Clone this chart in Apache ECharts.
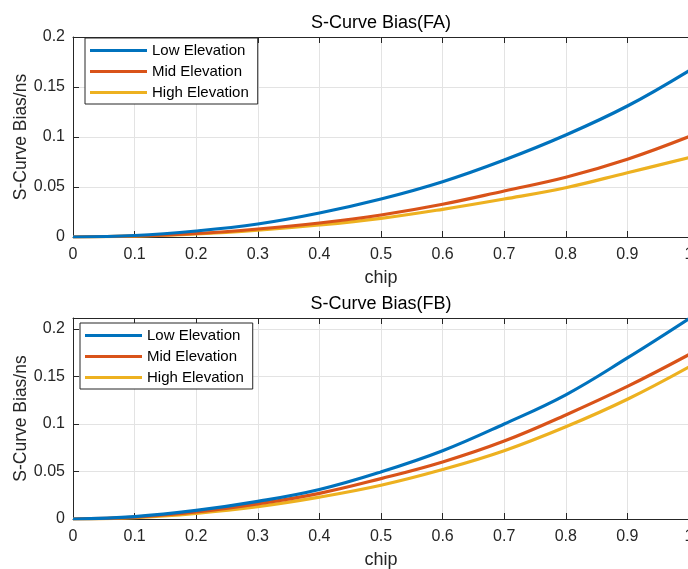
<!DOCTYPE html>
<html>
<head>
<meta charset="utf-8">
<script src="https://cdn.jsdelivr.net/npm/echarts@6/dist/echarts.min.js"></script>
<style>html,body{margin:0;padding:0;background:#fff;}#c{width:688px;height:569px;}</style>
</head>
<body>
<div id="c"></div>
<script>
const chip = [0, 0.1, 0.2, 0.3, 0.4, 0.5, 0.6, 0.7, 0.8, 0.9, 1.0];
const seriesNames = ['Low Elevation', 'Mid Elevation', 'High Elevation'];
const faLow  = [0, 0.0015, 0.006, 0.013, 0.024, 0.038, 0.0553, 0.077, 0.102, 0.131, 0.1663];
const faMid  = [0, 0.001, 0.0035, 0.008, 0.014, 0.022, 0.0327, 0.046, 0.0597, 0.0777, 0.1003];
const faHigh = [0, 0.0008, 0.003, 0.0068, 0.012, 0.0187, 0.0277, 0.038, 0.0493, 0.0643, 0.0793];
const fbLow  = [0, 0.0025, 0.009, 0.0185, 0.031, 0.0495, 0.0718, 0.1, 0.1307, 0.1695, 0.2108];
const fbMid  = [0, 0.002, 0.0075, 0.016, 0.027, 0.0425, 0.060, 0.082, 0.1095, 0.1395, 0.173];
const fbHigh = [0, 0.0015, 0.006, 0.013, 0.023, 0.0355, 0.052, 0.0718, 0.097, 0.126, 0.16];
const titles = ['S-Curve Bias(FA)', 'S-Curve Bias(FB)'];
const yMaxes = [0.2, 0.2115];
const colors = ['#0072BD', '#D95319', '#EDB120'];

const font = 'Liberation Sans, Arial, Helvetica, sans-serif';
const txt = '#262626';
const pair = (ys) => chip.map((x, i) => [x, ys[i]]);

function xAxes(g) {
  return [
    { type: 'value', gridIndex: g, min: 0, max: 1, interval: 0.1, position: 'bottom',
      name: 'chip', nameLocation: 'middle', nameGap: 32, nameMoveOverlap: false,
      nameTextStyle: { color: txt, fontSize: 18, fontFamily: font },
      axisLine: { show: true, onZero: false, lineStyle: { color: txt, width: 1 } },
      axisTick: { show: true, inside: true, length: 6, lineStyle: { color: txt } },
      axisLabel: { color: txt, fontSize: 16, fontFamily: font, margin: 10 },
      splitLine: { show: true, lineStyle: { color: '#e3e3e3', width: 1 } } },
    { type: 'value', gridIndex: g, min: 0, max: 1, interval: 0.1, position: 'top',
      axisLine: { show: true, onZero: false, lineStyle: { color: txt, width: 1 } },
      axisTick: { show: true, inside: true, length: 6, lineStyle: { color: txt } },
      axisLabel: { show: false }, splitLine: { show: false } }
  ];
}
function yAxis(g) {
  return { type: 'value', gridIndex: g, min: 0, max: yMaxes[g], interval: 0.05,
    name: 'S-Curve Bias/ns', nameLocation: 'middle', nameGap: 43, nameMoveOverlap: false,
    nameTextStyle: { color: txt, fontSize: 17.5, fontFamily: font },
    axisLine: { show: true, lineStyle: { color: txt, width: 1 } },
    axisTick: { show: true, inside: true, length: 6, lineStyle: { color: txt } },
    axisLabel: { color: txt, fontSize: 16, fontFamily: font, margin: 8,
      formatter: (v) => Math.abs(v / 0.05 - Math.round(v / 0.05)) < 1e-6 ? String(+v.toFixed(2)) : '' },
    splitLine: { show: true, lineStyle: { color: '#e3e3e3', width: 1 } } };
}
function mkSeries(g, arrs) {
  return arrs.map((a, i) => ({
    name: seriesNames[i], type: 'line', xAxisIndex: g * 2, yAxisIndex: g,
    data: pair(a), smooth: 0.4, symbol: 'none', showSymbol: false,
    lineStyle: { color: colors[i], width: 3.2 }, itemStyle: { color: colors[i] },
    z: 3 - i
  }));
}
function legend(left, top) {
  return { orient: 'vertical', left: left, top: top,
    data: seriesNames.map((n, i) => ({ name: n, itemStyle: { color: colors[i] } })),
    icon: 'rect', itemWidth: 57, itemHeight: 3, itemGap: 6,
    padding: [5, 9, 4, 5], backgroundColor: '#fff', borderColor: txt, borderWidth: 1,
    textStyle: { color: '#000', fontSize: 15, fontFamily: font },
    selectedMode: false };
}

const chart = echarts.init(document.getElementById('c'), null, { renderer: 'canvas' });
chart.setOption({
  animation: false,
  backgroundColor: '#fff',
  title: [
    { text: titles[0], left: 381, top: 14, textAlign: 'center', padding: 0,
      textStyle: { color: '#000', fontSize: 18, fontWeight: 'normal', fontFamily: font } },
    { text: titles[1], left: 381, top: 295, textAlign: 'center', padding: 0,
      textStyle: { color: '#000', fontSize: 18, fontWeight: 'normal', fontFamily: font } }
  ],
  grid: [
    { left: 73, right: -1, top: 37, height: 200, show: false, containLabel: false, outerBoundsMode: 'none' },
    { left: 73, right: -1, top: 318, height: 201, show: false, containLabel: false, outerBoundsMode: 'none' }
  ],
  xAxis: [...xAxes(0), ...xAxes(1)],
  yAxis: [yAxis(0), yAxis(1)],
  legend: [legend(85, 38), legend(80, 323)],
  series: [...mkSeries(0, [faLow, faMid, faHigh]), ...mkSeries(1, [fbLow, fbMid, fbHigh])]
});
</script>
</body>
</html>
